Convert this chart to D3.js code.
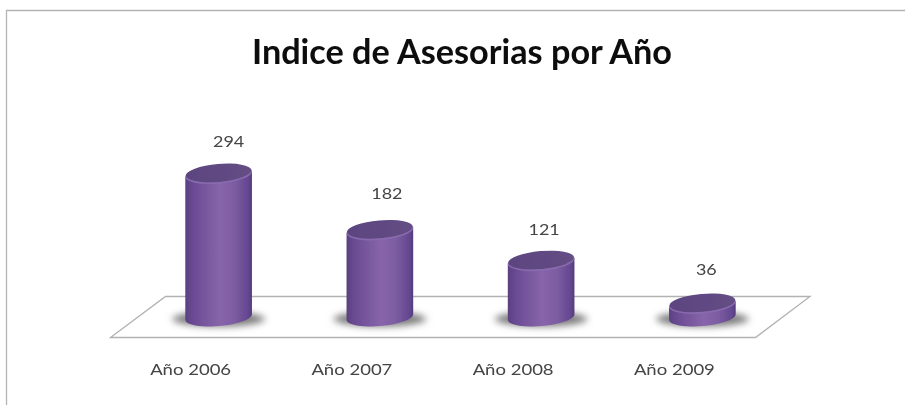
<!DOCTYPE html>
<html><head><meta charset="utf-8">
<script src="https://cdn.jsdelivr.net/npm/d3@7/dist/d3.min.js"></script>
<style>html,body{margin:0;padding:0;background:#fff}svg{display:block}text{font-family:Lato,"Open Sans",sans-serif}</style>
</head><body><svg id="c" width="905" height="405"></svg>
<script>
const categories = ["Año 2006","Año 2007","Año 2008","Año 2009"];
const values = [294,182,121,36];
const chartTitle = "Indice de Asesorias por Año";

const W=905,H=405;
const svg=d3.select("#c").attr("viewBox",[0,0,W,H]);
const defs=svg.append("defs");
const x=d3.scaleBand().domain(categories).range([138,783]).paddingInner(0.585).paddingOuter(0.2925);
const y=d3.scaleLinear().domain([0,294]).range([321,173]);
const baseY=317, rx=x.bandwidth()/2, ry=9, tilt=-5;
const rad=-tilt*Math.PI/180;

const g=defs.append("linearGradient").attr("id","body");
[[0,"#5a4082"],[0.12,"#6a4b93"],[0.52,"#8865ab"],[0.74,"#7d5ca2"],[0.94,"#634790"],[1,"#563c7c"]].forEach(s=>
  g.append("stop").attr("offset",s[0]).attr("stop-color",s[1]));
const gt=defs.append("linearGradient").attr("id","top");
[[0,"#5c4480"],[1,"#644e84"]].forEach(s=>gt.append("stop").attr("offset",s[0]).attr("stop-color",s[1]));
defs.append("filter").attr("id","shadow").attr("x","-30%").attr("y","-60%").attr("width","160%").attr("height","220%")
  .append("feGaussianBlur").attr("stdDeviation",3.6);
defs.append("filter").attr("id","soft").append("feGaussianBlur").attr("stdDeviation",0.45);
defs.append("filter").attr("id","softer").attr("x","-5%").attr("width","110%").append("feGaussianBlur").attr("stdDeviation",0.6);

// frame
svg.append("path").attr("d",`M6.5,${H}V10.5H${W}`).attr("fill","none").attr("stroke","#b4b4b4").attr("stroke-width",1.3);

svg.append("text").attr("x",462).attr("y",64).attr("text-anchor","middle")
  .attr("font-size",35).attr("font-weight",700).attr("fill","#0c0c0c").attr("filter","url(#soft)")
  .attr("textLength",420).attr("lengthAdjust","spacingAndGlyphs").text(chartTitle);

// floor
svg.append("path").attr("d","M110.5,337.5L165.5,296.5H810L755.5,337.5Z")
  .attr("fill","#fff").attr("stroke","#b2b2b2").attr("stroke-width",1.3);

const bars=svg.selectAll("g.bar").data(categories.map((c,i)=>({c,v:values[i]}))).join("g").attr("class","bar")
  .attr("transform",d=>`translate(${x(d.c)+rx},0)`);

bars.append("ellipse").attr("cx",0).attr("cy",baseY+2).attr("rx",rx+13).attr("ry",7.5)
  .attr("fill","#7c7c7c").attr("filter","url(#shadow)");

// cylinder outline: the lower half of the base ellipse, then up to the top ellipse
const rimSteps=d3.range(0,25).map(i=>Math.PI*i/24);
const rim=(a,cy)=>[-rx*Math.cos(a)*Math.cos(rad)+ry*Math.sin(a)*Math.sin(rad),
                   cy+rx*Math.cos(a)*Math.sin(rad)+ry*Math.sin(a)*Math.cos(rad)];
const outline=d3.line();
const cyl=bars.append("g").attr("filter","url(#soft)");
cyl.append("path").attr("fill","url(#body)").attr("d",d=>{
  const t=y(d.v);
  const lower=rimSteps.map(a=>rim(a,baseY));
  const upper=rimSteps.map(a=>rim(a,t)).reverse();
  return outline(lower.concat(upper))+"Z";
});
cyl.append("ellipse").attr("rx",rx).attr("ry",ry+0.5)
  .attr("transform",d=>`translate(0,${y(d.v)+1.2}) rotate(${tilt})`).attr("fill","#8a6bb0").attr("opacity",0.9);
cyl.append("ellipse").attr("rx",rx-0.5).attr("ry",ry)
  .attr("transform",d=>`translate(0,${y(d.v)}) rotate(${tilt})`).attr("fill","url(#top)");

const valueOffsets=[10,7,3,4], valueGaps=[26,30,25,28];
svg.selectAll("text.val").data(values).join("text").attr("class","val")
  .attr("x",(d,i)=>x(categories[i])+rx+valueOffsets[i]).attr("y",(d,i)=>y(d)-valueGaps[i])
  .attr("text-anchor","middle").attr("font-size",16).attr("fill","#444").attr("filter","url(#softer)")
  .attr("textLength",d=>String(d).length*10.4).attr("lengthAdjust","spacingAndGlyphs").text(d=>d);

svg.selectAll("text.cat").data(categories).join("text").attr("class","cat")
  .attr("x",d=>x(d)+rx-28).attr("y",375).attr("text-anchor","middle")
  .attr("font-size",15.5).attr("fill","#444").attr("filter","url(#softer)")
  .attr("textLength",81).attr("lengthAdjust","spacingAndGlyphs").text(d=>d);
</script></body></html>
